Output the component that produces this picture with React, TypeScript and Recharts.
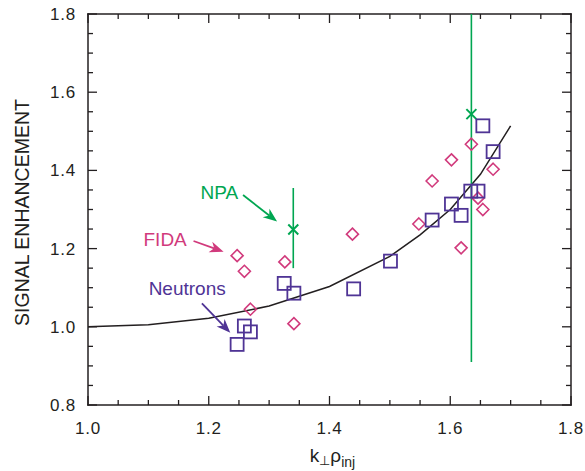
import React from 'react';
import {
    ComposedChart, Line, Scatter, XAxis, YAxis, ErrorBar, ReferenceLine, ReferenceDot,
} from 'recharts';

// model curve
const CURVE_X = [1.0, 1.1, 1.2, 1.3, 1.4, 1.5, 1.55, 1.6, 1.65, 1.7];
const CURVE_Y = [1.0, 1.005, 1.022, 1.053, 1.103, 1.18, 1.235, 1.3, 1.39, 1.514];

// measurements
const NEUTRON_X = [1.247, 1.259, 1.269, 1.325, 1.341, 1.44, 1.501, 1.57, 1.602, 1.618, 1.634, 1.646, 1.654, 1.671];
const NEUTRON_Y = [0.955, 1.002, 0.987, 1.111, 1.086, 1.097, 1.168, 1.273, 1.314, 1.285, 1.347, 1.347, 1.514, 1.448];

const FIDA_X = [1.247, 1.259, 1.269, 1.326, 1.341, 1.438, 1.548, 1.57, 1.602, 1.618, 1.635, 1.646, 1.654, 1.671];
const FIDA_Y = [1.182, 1.142, 1.045, 1.166, 1.008, 1.237, 1.263, 1.373, 1.427, 1.202, 1.467, 1.329, 1.3, 1.403];

const NPA_X = [1.34, 1.635];
const NPA_Y = [1.249, 1.544];
const NPA_LOW = [1.15, 0.91];
const NPA_HIGH = [1.355, 1.8];

const X_TICKS = [1.0, 1.05, 1.1, 1.15, 1.2, 1.25, 1.3, 1.35, 1.4, 1.45, 1.5, 1.55, 1.6, 1.65, 1.7, 1.75, 1.8];
const Y_TICKS = [0.8, 0.85, 0.9, 0.95, 1.0, 1.05, 1.1, 1.15, 1.2, 1.25, 1.3, 1.35, 1.4, 1.45, 1.5, 1.55, 1.6, 1.65, 1.7, 1.75, 1.8];

// annotation labels + arrows: [textX, textY, fromX, fromY, tipX, tipY]
const NOTE_LABELS = ['NPA', 'FIDA', 'Neutrons'];
const NOTE_POS = [
    [1.2174, 1.326, 1.2568, 1.337, 1.3132, 1.269],
    [1.1278, 1.2066, 1.1748, 1.2194, 1.2246, 1.1921],
    [1.1643, 1.0813, 1.1887, 1.0601, 1.2357, 0.9847],
];

const X_MIN = 1.0;
const X_MAX = 1.8;
const Y_MIN = 0.8;
const Y_MAX = 1.8;

const INK = '#231f20';
const GREEN = '#00a651';
const PINK = '#d13a7c';
const PURPLE = '#4f3495';
const NOTE_COLORS = [GREEN, PINK, PURPLE];
const FONT = '"Liberation Sans", Arial, sans-serif';

const curveData = CURVE_X.map((x, i) => ({ x, y: CURVE_Y[i] }));
const neutronData = NEUTRON_X.map((x, i) => ({ x, y: NEUTRON_Y[i] }));
const fidaData = FIDA_X.map((x, i) => ({ x, y: FIDA_Y[i] }));
const npaData = NPA_X.map((x, i) => ({ x, y: NPA_Y[i], err: [NPA_Y[i] - NPA_LOW[i], NPA_HIGH[i] - NPA_Y[i]] }));

const isMajor = (v: number) => Math.abs(v * 5 - Math.round(v * 5)) < 1e-6;
const tickLen = (v: number) => (isMajor(v) ? 9 : 5);

const BottomLabel = (props: any) => {
    const { x, y, payload } = props;
    const v = payload.value;
    if (!isMajor(v)) return <g />;
    return (
        <text x={x} y={y + 29} textAnchor="middle" fontSize={17} letterSpacing={0.8} fill={INK} fontFamily={FONT}>
            {v.toFixed(1)}
        </text>
    );
};

const LeftLabel = (props: any) => {
    const { x, y, payload } = props;
    const v = payload.value;
    if (!isMajor(v)) return <g />;
    return (
        <text x={x - 12} y={y + 6} textAnchor="end" fontSize={17} letterSpacing={0.8} fill={INK} fontFamily={FONT}>
            {v.toFixed(1)}
        </text>
    );
};

// short inward tick: starts at the first point, heads toward the second for len px
const makeTick = (len: number) => (props: any) => {
    const { x1, y1, x2, y2 } = props;
    const dx = x2 - x1;
    const dy = y2 - y1;
    const d = Math.sqrt(dx * dx + dy * dy) || 1;
    return (
        <line
            x1={x1} y1={y1} x2={x1 + (dx / d) * len} y2={y1 + (dy / d) * len}
            stroke={INK} strokeWidth={1.3}
        />
    );
};

const frameLine = (props: any) => {
    const { x1, y1, x2, y2 } = props;
    return <line x1={x1} y1={y1} x2={x2} y2={y2} stroke={INK} strokeWidth={1.5} strokeLinecap="square" />;
};

const Square = (props: any) => {
    const { cx, cy } = props;
    return <rect x={cx - 6.5} y={cy - 6.5} width={13} height={13} fill="none" stroke={PURPLE} strokeWidth={1.8} />;
};

const Diamond = (props: any) => {
    const { cx, cy } = props;
    const r = 6;
    return (
        <polygon
            points={`${cx},${cy - r} ${cx + r},${cy} ${cx},${cy + r} ${cx - r},${cy}`}
            fill="none" stroke={PINK} strokeWidth={1.6}
        />
    );
};

const Cross = (props: any) => {
    const { cx, cy } = props;
    const r = 5;
    return (
        <path d={`M${cx - r},${cy - r}L${cx + r},${cy + r}M${cx - r},${cy + r}L${cx + r},${cy - r}`} stroke={GREEN} strokeWidth={2} />
    );
};

const makeArrow = (color: string) => (props: any) => {
    const { x1, y1, x2, y2 } = props;
    const dx = x2 - x1;
    const dy = y2 - y1;
    const len = Math.sqrt(dx * dx + dy * dy);
    const ux = dx / len;
    const uy = dy / len;
    const head = 14;
    const half = 5.5;
    const bx = x2 - ux * head;
    const by = y2 - uy * head;
    const nx = bx + ux * 4;
    const ny = by + uy * 4;
    return (
        <g>
            <line x1={x1} y1={y1} x2={nx} y2={ny} stroke={color} strokeWidth={1.8} />
            <polygon
                points={`${x2},${y2} ${bx - uy * half},${by + ux * half} ${nx},${ny} ${bx + uy * half},${by - ux * half}`}
                fill={color}
            />
        </g>
    );
};

const makeNoteText = (label: string, color: string) => (props: any) => {
    const { cx, cy } = props;
    return (
        <text x={cx} y={cy} textAnchor="middle" fontSize={19} fill={color} fontFamily={FONT}>
            {label}
        </text>
    );
};

const XLabel = (props: any) => {
    const { viewBox } = props;
    const cx = viewBox.x + viewBox.width / 2 + 3;
    const y = viewBox.y + 57;
    return (
        <text x={cx} y={y} textAnchor="middle" fontSize={19} fill={INK} fontFamily={FONT}>
            k<tspan fontSize={13} dy={3}>⊥</tspan>
            <tspan dy={-3}>ρ</tspan>
            <tspan fontSize={14} dy={5}>inj</tspan>
        </text>
    );
};

const YLabel = (props: any) => {
    const { viewBox } = props;
    const cy = viewBox.y + viewBox.height / 2 + 3;
    return (
        <text
            x={29} y={cy} textAnchor="middle" fontSize={19.5} fill={INK} fontFamily={FONT}
            transform={`rotate(-90, 29, ${cy})`}
        >
            SIGNAL ENHANCEMENT
        </text>
    );
};

const FRAME = [
    [X_MIN, Y_MIN, X_MIN, Y_MAX],
    [X_MAX, Y_MIN, X_MAX, Y_MAX],
    [X_MIN, Y_MIN, X_MAX, Y_MIN],
    [X_MIN, Y_MAX, X_MAX, Y_MAX],
];

const App = () => {
    return (
        <div style={{ position: 'absolute', left: 0, top: 0, background: '#fff' }}>
            <ComposedChart width={585} height={471} margin={{ top: 14, right: 14, bottom: 0, left: 0 }}>
                <XAxis
                    type="number" dataKey="x" domain={[X_MIN, X_MAX]} ticks={X_TICKS}
                    height={66} tickSize={0} tickMargin={0} tickLine={false} tick={<BottomLabel />}
                    axisLine={false} allowDataOverflow interval={0}
                    label={<XLabel />}
                />
                <YAxis
                    type="number" dataKey="y" domain={[Y_MIN, Y_MAX]} ticks={Y_TICKS}
                    width={88} tickSize={0} tickMargin={0} tickLine={false} tick={<LeftLabel />}
                    axisLine={false} allowDataOverflow interval={0}
                    label={<YLabel />}
                />
                {X_TICKS.map((v) => (
                    <ReferenceLine
                        key={`xb-${v}`} ifOverflow="visible" shape={makeTick(tickLen(v))}
                        segment={[{ x: v, y: Y_MIN }, { x: v, y: Y_MAX }]}
                    />
                ))}
                {X_TICKS.map((v) => (
                    <ReferenceLine
                        key={`xt-${v}`} ifOverflow="visible" shape={makeTick(tickLen(v))}
                        segment={[{ x: v, y: Y_MAX }, { x: v, y: Y_MIN }]}
                    />
                ))}
                {Y_TICKS.map((v) => (
                    <ReferenceLine
                        key={`yl-${v}`} ifOverflow="visible" shape={makeTick(tickLen(v))}
                        segment={[{ x: X_MIN, y: v }, { x: X_MAX, y: v }]}
                    />
                ))}
                {Y_TICKS.map((v) => (
                    <ReferenceLine
                        key={`yr-${v}`} ifOverflow="visible" shape={makeTick(tickLen(v))}
                        segment={[{ x: X_MAX, y: v }, { x: X_MIN, y: v }]}
                    />
                ))}
                {FRAME.map((f, i) => (
                    <ReferenceLine
                        key={`frame-${i}`} ifOverflow="visible" shape={frameLine}
                        segment={[{ x: f[0], y: f[1] }, { x: f[2], y: f[3] }]}
                    />
                ))}
                <Line
                    data={curveData} dataKey="y" type="linear" stroke={INK} strokeWidth={1.5}
                    dot={false} isAnimationActive={false}
                />
                <Scatter data={npaData} dataKey="y" shape={<Cross />} isAnimationActive={false}>
                    <ErrorBar dataKey="err" direction="y" width={0} stroke={GREEN} strokeWidth={1.6} isAnimationActive={false} />
                </Scatter>
                <Scatter data={fidaData} dataKey="y" shape={<Diamond />} isAnimationActive={false} />
                <Scatter data={neutronData} dataKey="y" shape={<Square />} isAnimationActive={false} />
                {NOTE_POS.map((p, i) => (
                    <ReferenceLine
                        key={`arrow-${i}`}
                        segment={[{ x: p[2], y: p[3] }, { x: p[4], y: p[5] }]}
                        shape={makeArrow(NOTE_COLORS[i])}
                    />
                ))}
                {NOTE_POS.map((p, i) => (
                    <ReferenceDot
                        key={`note-${i}`} x={p[0]} y={p[1]} r={0}
                        shape={makeNoteText(NOTE_LABELS[i], NOTE_COLORS[i])}
                    />
                ))}
            </ComposedChart>
        </div>
    );
};

export default App;
